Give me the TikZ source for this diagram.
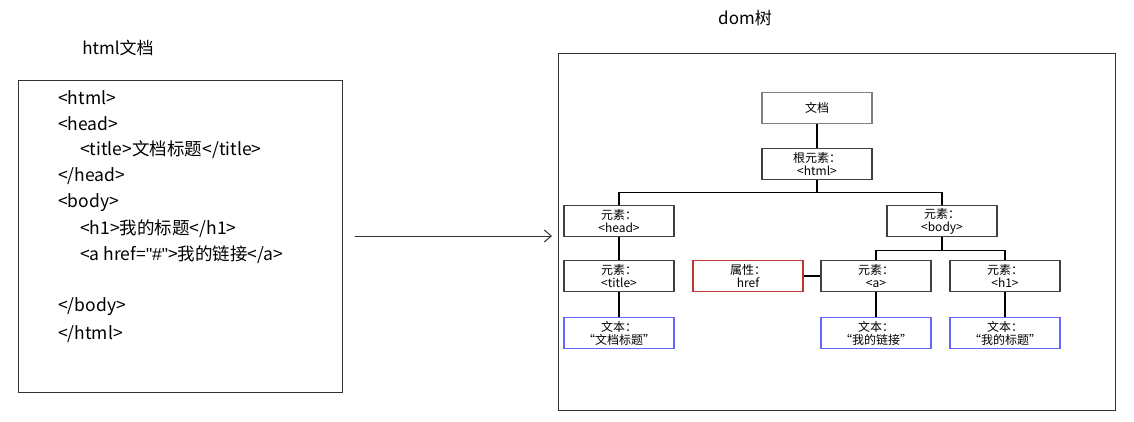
\documentclass[tikz,border=0pt]{standalone}
\usepackage{fontspec}
\usetikzlibrary{arrows.meta}
\setmainfont{Noto Sans CJK SC}
\newfontfamily\latinfont{Liberation Sans}
\begin{document}
\begin{tikzpicture}[x=1pt, y=-1pt,
                box/.style = {draw=black!75, minimum width = 110pt, minimum height = 31pt, inner sep = 0pt, align = center, font = \fontsize{12}{13}\selectfont, line width = 1.1pt},
                attr/.style = {box, draw = red!70!black!80},
                txt/.style = {box, draw = blue!60},
                code/.style = {anchor = west, font = \fontsize{17.5}{18}\selectfont, inner sep = 0pt},
                link/.style = {draw, line width = 1.1pt},
            ]
            \useasboundingbox (0,0) rectangle (1134,421);
            \node (t1) [font=\fontsize{17}{18}\selectfont] at (118,48) {html文档};
            \node (t2) [font=\fontsize{17}{18}\selectfont] at (745,18) {dom树};
            \draw[black!80, line width=1pt] (18,80) rectangle (342,392);
            \draw[black!80, line width=1pt] (558,53) rectangle (1115,410);

            \node (c1) [code] at (58,98) {<html>};
            \node (c2) [code] at (58,124) {<head>};
            \node (c3) [code] at (80,150) {<title>文档标题</title>};
            \node (c4) [code] at (58,176) {</head>};
            \node (c5) [code] at (58,203) {<body>};
            \node (c6) [code] at (80,229) {<h1>我的标题</h1>};
            \node (c7) [code] at (80,255) {<a href={\latinfont"\#"}>我的链接</a>};
            \node (c8) [code] at (58,307) {</body>};
            \node (c9) [code] at (58,334) {</html>};

            \coordinate (s) at (355,236);
            \coordinate (e) at (552,236);
            \draw[black!80, line width=1pt, -{Straight Barb[length=7pt, width=12pt]}] (s) -- (e);

            \node (doc) [box, draw = black!50] at (817,108) {文档};
            \node (html) [box] at (817,164) {根元素：\\<html>};
            \node (head) [box] at (619,221) {元素：\\<head>};
            \node (body) [box] at (942,221) {元素：\\<body>};
            \node (title) [box] at (619,276) {元素：\\<title>};
            \node (href) [attr] at (748,276) {属性：\\href};
            \node (a) [box] at (876,276) {元素：\\<a>};
            \node (h1) [box] at (1005,276) {元素：\\<h1>};
            \node (ttext) [txt] at (619,333) {文本：\\“文档标题”};
            \node (atext) [txt] at (876,333) {文本：\\“我的链接”};
            \node (htext) [txt] at (1005,333) {文本：\\“我的标题”};

            \path[link] (doc) -- (html);
            \path[link] (html.south) -- ++(0,12) -| (head.north);
            \path[link] (html.south) -- ++(0,12) -| (body.north);
            \path[link] (body.south) -- ++(0,13) -| (a.north);
            \path[link] (body.south) -- ++(0,13) -| (h1.north);
            \path[link] (href) -- (a);
            \path[link] (head) -- (title);
            \path[link] (title) -- (ttext);
            \path[link] (a) -- (atext);
            \path[link] (h1) -- (htext);
        \end{tikzpicture}
\end{document}
